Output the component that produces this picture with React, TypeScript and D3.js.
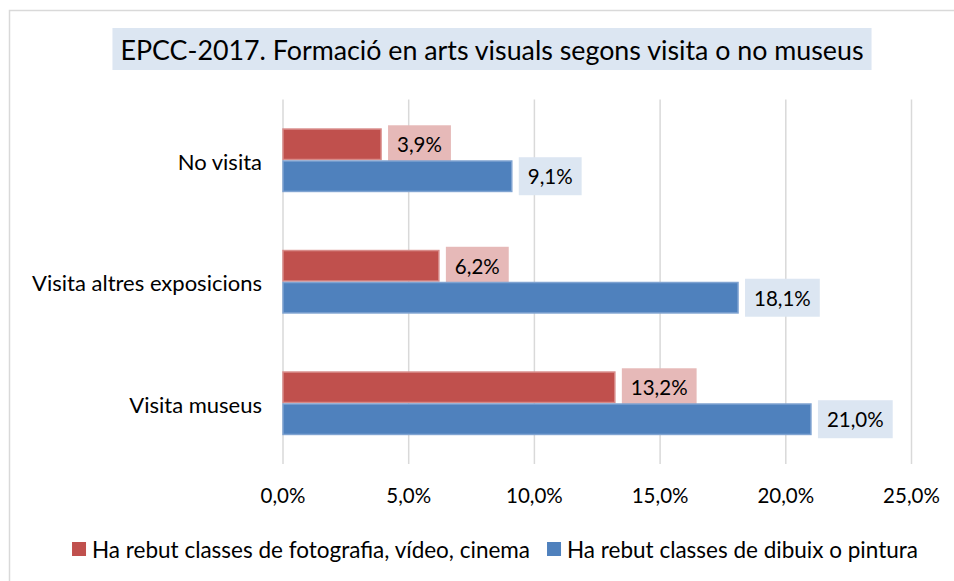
import React, { useEffect, useRef } from "react";
import * as d3 from "d3";

const title = "EPCC-2017. Formació en arts visuals segons visita o no museus";
const categories = ["No visita", "Visita altres exposicions", "Visita museus"];
const seriesNames = [
  "Ha rebut classes de fotografia, vídeo, cinema",
  "Ha rebut classes de dibuix o pintura",
];
const fotografia = [3.9, 6.2, 13.2];
const dibuix = [9.1, 18.1, 21.0];
const xTicks = [0, 5, 10, 15, 20, 25];

const W = 954;
const H = 581;
const FONT = "Lato, 'Open Sans', sans-serif";
const colors = ["#C0504D", "#4F81BD"];
const strokes = ["#D88B89", "#7FA3D1"];
const labelBg = ["#E6B9B8", "#DCE6F2"];

const fmt = (v: number) => v.toFixed(1).replace(".", ",") + "%";

export default function App() {
  const ref = useRef<SVGSVGElement>(null);
  useEffect(() => {
    const svg = d3.select(ref.current);
    svg.selectAll("*").remove();

    svg.append("rect").attr("x", 0).attr("y", 0).attr("width", W).attr("height", H).attr("fill", "#fff");
    svg.append("rect").attr("x", 9.5).attr("y", 10.5).attr("width", W + 20).attr("height", H + 20)
      .attr("fill", "none").attr("stroke", "#D9D9D9").attr("stroke-width", 1.5);

    // title
    const tg = svg.append("g");
    const tt = tg.append("text").attr("x", 492).attr("y", 50).attr("text-anchor", "middle")
      .attr("dominant-baseline", "central").attr("font-family", FONT).attr("font-size", 26.8)
      .attr("fill", "#000").text(title);
    const tw = (tt.node() as SVGTextElement).getComputedTextLength();
    tg.insert("rect", "text").attr("x", 492 - tw / 2 - 8).attr("y", 28).attr("width", tw + 16)
      .attr("height", 42).attr("fill", "#DCE6F2");

    const x = d3.scaleLinear().domain([0, 25]).range([283, 911.5]);
    const pInner = 0.474;
    const y = d3.scaleBand().domain(categories).range([99.5, 464]).paddingInner(pInner).paddingOuter(pInner / 2);
    const ySub = d3.scaleBand().domain(["0", "1"]).range([0, y.bandwidth()]);

    // gridlines
    svg.append("g").selectAll("line").data(xTicks).join("line")
      .attr("x1", (d) => x(d)).attr("x2", (d) => x(d)).attr("y1", 99.5).attr("y2", 464)
      .attr("stroke", "#D9D9D9").attr("stroke-width", 1.5);

    // tick labels
    svg.append("g").selectAll("text").data(xTicks).join("text")
      .attr("x", (d) => x(d)).attr("y", 495).attr("text-anchor", "middle").attr("dominant-baseline", "central")
      .attr("font-family", FONT).attr("font-size", 20.5).attr("fill", "#000")
      .text((d) => d.toFixed(1).replace(".", ",") + "%");

    // category labels
    svg.append("g").selectAll("text").data(categories).join("text")
      .attr("x", 262).attr("y", (d) => (y(d) as number) + y.bandwidth() / 2 + 1)
      .attr("text-anchor", "end").attr("dominant-baseline", "central")
      .attr("font-family", FONT).attr("font-size", 22).attr("fill", "#000").text((d) => d);

    const series = [fotografia, dibuix];
    series.forEach((vals, si) => {
      const g = svg.append("g");
      g.selectAll("rect").data(vals).join("rect")
        .attr("x", x(0)).attr("y", (d, i) => (y(categories[i]) as number) + (ySub(String(si)) as number) + 0.75)
        .attr("width", (d) => x(d) - x(0)).attr("height", ySub.bandwidth() - 1.5)
        .attr("fill", colors[si]).attr("stroke", strokes[si]).attr("stroke-width", 1.5);

      vals.forEach((v, i) => {
        const cy = (y(categories[i]) as number) + (ySub(String(si)) as number) + ySub.bandwidth() / 2;
        const lg = g.append("g");
        const bx = x(v) + 7;
        const t = lg.append("text").attr("x", bx + 9).attr("y", cy).attr("dominant-baseline", "central")
          .attr("font-family", FONT).attr("font-size", 20.5).attr("fill", "#000").text(fmt(v));
        const w = (t.node() as SVGTextElement).getComputedTextLength();
        lg.insert("rect", "text").attr("x", bx).attr("y", cy - 19).attr("width", w + 18).attr("height", 38)
          .attr("fill", labelBg[si]);
      });
    });

    // legend
    const lgd = svg.append("g");
    const items = seriesNames.map((name, i) => {
      const g = lgd.append("g");
      g.append("rect").attr("x", 0).attr("y", -7).attr("width", 14).attr("height", 14).attr("fill", colors[i]);
      const t = g.append("text").attr("x", 20).attr("y", 0).attr("dominant-baseline", "central")
        .attr("font-family", FONT).attr("font-size", 22.5).attr("fill", "#000").text(name);
      return { g, w: 20 + (t.node() as SVGTextElement).getComputedTextLength() };
    });
    const gap = 17;
    const total = items.reduce((s, it) => s + it.w, 0) + gap;
    let cx = 495 - total / 2;
    items.forEach((it) => {
      it.g.attr("transform", `translate(${cx},549)`);
      cx += it.w + gap;
    });
  }, []);

  return <svg ref={ref} width={W} height={H} style={{ display: "block", margin: 0, position: "absolute", left: 0, top: 0 }} />;
}
